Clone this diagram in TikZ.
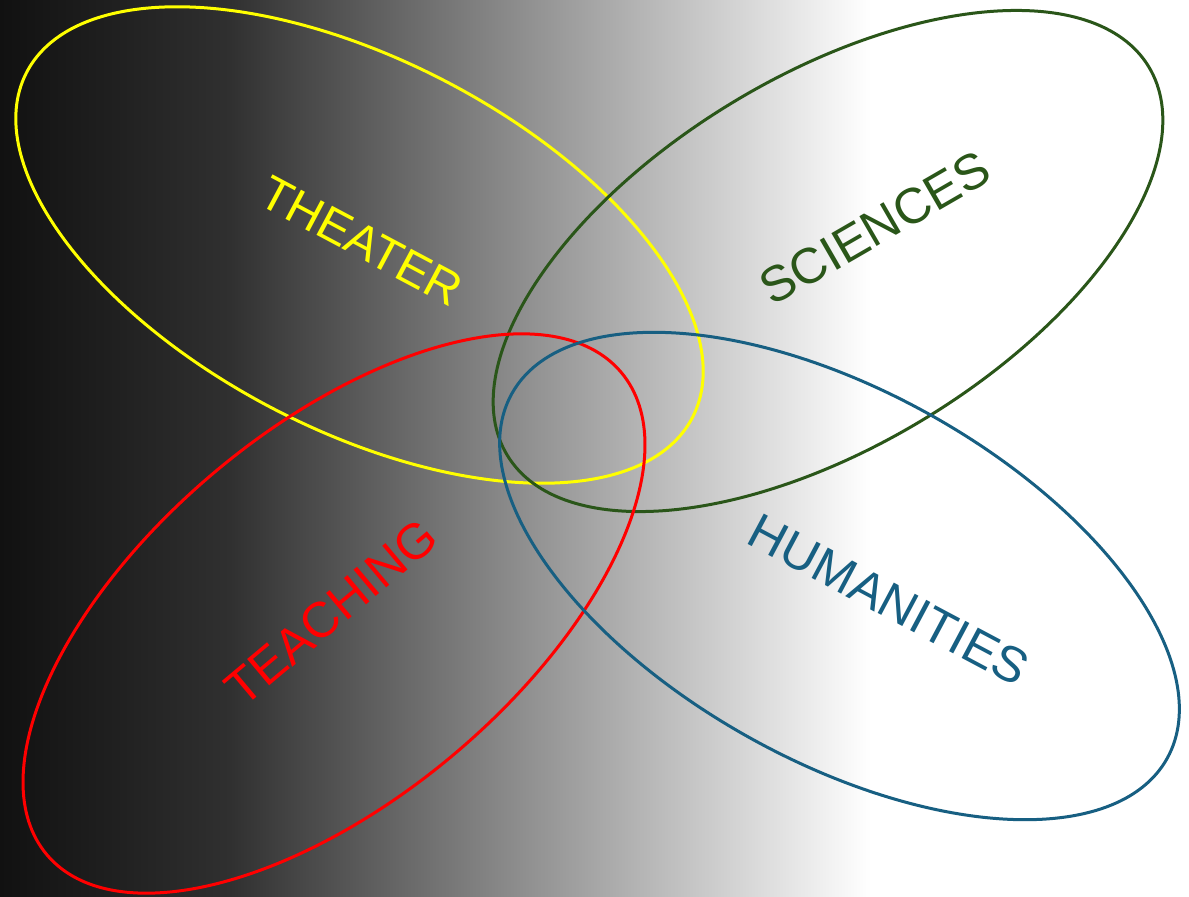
\documentclass[tikz,border=0pt]{standalone}
\usepackage{fontspec}
\setmainfont{Liberation Sans}
\definecolor{cyel}{HTML}{FFFF00}
\definecolor{cgrn}{HTML}{2A5619}
\definecolor{cred}{HTML}{FF0000}
\definecolor{cblu}{HTML}{175F82}
\definecolor{g0}{HTML}{111111}
\definecolor{g1}{HTML}{222222}
\definecolor{g2}{HTML}{303030}
\begin{document}
\begin{tikzpicture}[x=1pt,y=-1pt,
  ring/.style={line width=3pt},
  lbl/.style={font=\fontsize{50}{50}\selectfont, inner sep=0pt}]
\useasboundingbox (0,0) rectangle (1189,897);
% background gradient
\shade[left color=g0, right color=g1] (0,0) rectangle (130.5,897);
\shade[left color=g1, right color=g2] (130,0) rectangle (230.5,897);
\shade[left color=g2, right color=white] (230,0) rectangle (870.5,897);
\fill[white] (870,0) rectangle (1189,897);
% ellipses
\draw[ring, cyel, rotate around={-27.4:(359.5,245)}] (359.5,245) ellipse [x radius=375pt, y radius=185pt];
\draw[ring, cgrn, rotate around={31.2:(828,261)}] (828,261) ellipse [x radius=375pt, y radius=185pt];
\draw[ring, cred, rotate around={40:(334,613.5)}] (334,613.5) ellipse [x radius=375pt, y radius=185pt];
\draw[ring, cblu, rotate around={-29.1:(839.5,576)}] (839.5,576) ellipse [x radius=375pt, y radius=185pt];
% labels
\node[lbl, text=cyel, rotate=-28, font=\fontsize{48}{48}\selectfont] (theater) at (362,241) {THEATER};
\node[lbl, text=cgrn, rotate=30] (sciences) at (875,228) {SCIENCES};
\node[lbl, text=cred, rotate=40] (teaching) at (331,612) {TEACHING};
\node[lbl, text=cblu, rotate=-28] (humanities) at (889,600) {HUMANITIES};
\end{tikzpicture}
\end{document}
